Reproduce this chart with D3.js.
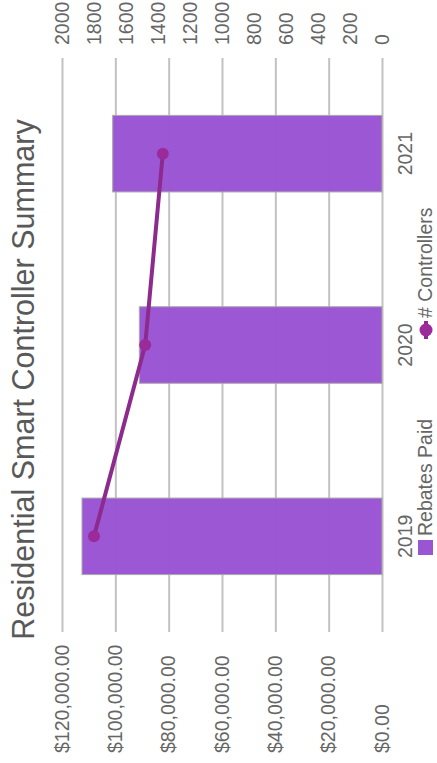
<!DOCTYPE html>
<html>
<head>
<meta charset="utf-8">
<script src="https://cdn.jsdelivr.net/npm/d3@7"></script>
<style>
  body { margin: 0; background: #fff; }
  svg { display: block; font-family: 'Liberation Sans', Arial, sans-serif; }
</style>
</head>
<body>
<div id="chart"></div>
<script>
const years = ['2019', '2020', '2021'];
const rebatesPaid = [112500, 91000, 101000];
const controllers = [1800, 1480, 1370];
const rebateTicks = [0, 20000, 40000, 60000, 80000, 100000, 120000];
const controllerTicks = [0, 200, 400, 600, 800, 1000, 1200, 1400, 1600, 1800, 2000];

// the chart is laid out landscape (763 x 437) and then turned on its side
const W = 763;
const H = 437;
const plot = { left: 131, right: 705, top: 62, bottom: 382 };

const barColor = '#9a55d3';
const lineColor = '#8c2a8e';
const dotColor = '#9b2b9b';
const textColor = '#666';

const svg = d3.select('#chart').append('svg')
  .attr('width', H)
  .attr('height', W);

const g = svg.append('g')
  .attr('transform', `translate(0,${W}) rotate(-90)`);

const x = d3.scaleBand()
  .domain(years)
  .range([plot.left, plot.right])
  .paddingInner(0.6)
  .paddingOuter(0.3);

const yL = d3.scaleLinear().domain([0, 120000]).range([plot.bottom, plot.top]);
const yR = d3.scaleLinear().domain([0, 2000]).range([plot.bottom, plot.top]);

// gridlines + left labels
const money = d3.format('$,.2f');
const leftAxis = g.append('g')
  .attr('transform', `translate(${plot.left},0)`)
  .call(d3.axisLeft(yL).tickValues(rebateTicks).tickSize(-(plot.right - plot.left)).tickFormat(money));
leftAxis.select('.domain').remove();
leftAxis.selectAll('.tick line').attr('stroke', '#c2c2c2').attr('stroke-width', 2);
leftAxis.selectAll('.tick text')
  .attr('x', 10 - plot.left)
  .attr('text-anchor', 'start')
  .attr('fill', textColor)
  .style('font-size', '19.5px');

// right labels
const rightAxis = g.append('g')
  .attr('transform', `translate(${plot.right},0)`)
  .call(d3.axisRight(yR).tickValues(controllerTicks).tickSize(0).tickFormat(d3.format('d')));
rightAxis.select('.domain').remove();
rightAxis.selectAll('.tick text')
  .attr('x', 13)
  .attr('text-anchor', 'start')
  .attr('fill', textColor)
  .style('font-size', '19.5px');

// bars
g.append('g').selectAll('rect')
  .data(years)
  .enter().append('rect')
    .attr('x', d => x(d))
    .attr('width', x.bandwidth())
    .attr('y', (d, i) => yL(rebatesPaid[i]))
    .attr('height', (d, i) => yL(0) - yL(rebatesPaid[i]))
    .attr('fill', barColor)
    .attr('fill-opacity', 0.98)
    .attr('stroke', '#a9a9a9')
    .attr('stroke-width', 1);

// year labels
const xAxis = g.append('g')
  .attr('transform', `translate(0,${plot.bottom})`)
  .call(d3.axisBottom(x).tickSize(0));
xAxis.select('.domain').remove();
xAxis.selectAll('.tick text')
  .attr('y', 16)
  .attr('fill', textColor)
  .style('font-size', '19.5px');

// controllers line
const line = d3.line()
  .x((d, i) => x(years[i]) + x.bandwidth() / 2)
  .y(d => yR(d));

g.append('path')
  .datum(controllers)
  .attr('d', line)
  .attr('fill', 'none')
  .attr('stroke', lineColor)
  .attr('stroke-width', 4);

g.append('g').selectAll('circle')
  .data(controllers)
  .enter().append('circle')
    .attr('cx', (d, i) => x(years[i]) + x.bandwidth() / 2)
    .attr('cy', d => yR(d))
    .attr('r', 6)
    .attr('fill', dotColor);

// title
g.append('text')
  .attr('x', W / 2 + 2)
  .attr('y', 34)
  .attr('text-anchor', 'middle')
  .attr('fill', '#595959')
  .style('font-size', '30.5px')
  .text('Residential Smart Controller Summary');

// legend
const legend = g.append('g');
legend.append('rect')
  .attr('x', 208).attr('y', 418)
  .attr('width', 15).attr('height', 15)
  .attr('fill', barColor);
legend.append('text')
  .attr('x', 227).attr('y', 432)
  .attr('fill', textColor)
  .style('font-size', '19.5px')
  .text('Rebates Paid');
legend.append('line')
  .attr('x1', 424).attr('x2', 442)
  .attr('y1', 426).attr('y2', 426)
  .attr('stroke', lineColor)
  .attr('stroke-width', 4);
legend.append('circle')
  .attr('cx', 433).attr('cy', 426)
  .attr('r', 6.5)
  .attr('fill', dotColor);
legend.append('text')
  .attr('x', 445).attr('y', 432)
  .attr('fill', textColor)
  .style('font-size', '19.5px')
  .text('# Controllers');
</script>
</body>
</html>
